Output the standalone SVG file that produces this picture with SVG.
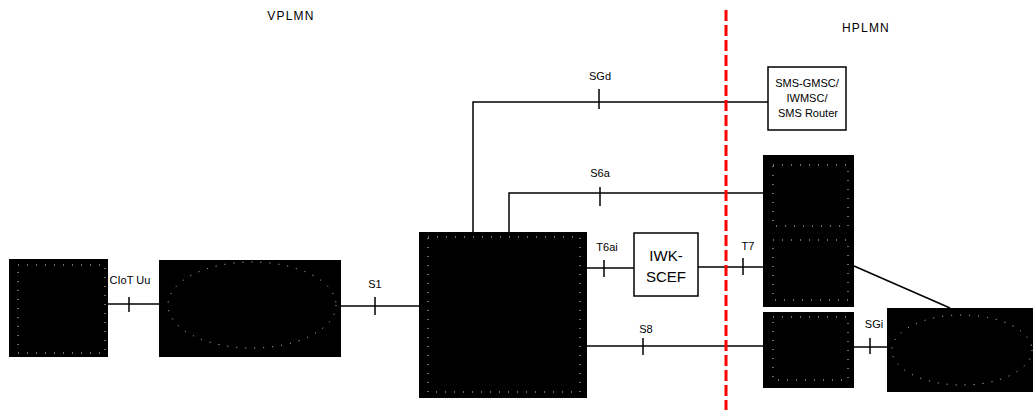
<svg xmlns="http://www.w3.org/2000/svg" width="1033" height="410" viewBox="0 0 1033 410">
<defs>
<style>
.blk{fill:#000;stroke:none}
.dot{fill:none;stroke:#d8d8d8;stroke-width:1;stroke-dasharray:1 8}
.box{fill:#fff;stroke:#000;stroke-width:1.5}
.ln{fill:none;stroke:#000;stroke-width:1.5}
.tk{stroke:#000;stroke-width:1.5}
.lbl{font-family:"Liberation Sans",Arial,sans-serif;font-size:11px;fill:#000;text-anchor:middle}
.ttl{font-family:"Liberation Sans",Arial,sans-serif;font-size:12px;letter-spacing:1.2px;fill:#000;text-anchor:middle}
.nt{font-family:"Liberation Sans",Arial,sans-serif;fill:#000;text-anchor:middle}
</style>
</defs>
<rect width="1033" height="410" fill="#fff"/>
<text class="ttl" x="291" y="20">VPLMN</text>
<text class="ttl" x="866" y="32">HPLMN</text>
<g id="connectors">
<line class="ln" x1="108" y1="304" x2="159" y2="304"/>
<line class="tk" x1="129" y1="297" x2="129" y2="312"/>
<line class="ln" x1="341" y1="306" x2="419" y2="306"/>
<line class="tk" x1="375" y1="297" x2="375" y2="315"/>
<polyline class="ln" points="473,232 473,102 768,102"/>
<line class="tk" x1="599" y1="89" x2="599" y2="109"/>
<polyline class="ln" points="509,232 509,193 763,193"/>
<line class="tk" x1="600" y1="187" x2="600" y2="206"/>
<line class="ln" x1="587" y1="268" x2="634" y2="268"/>
<line class="tk" x1="604" y1="260" x2="604" y2="277"/>
<line class="ln" x1="698" y1="267" x2="763" y2="267"/>
<line class="tk" x1="743" y1="258" x2="743" y2="275"/>
<line class="ln" x1="587" y1="346" x2="763" y2="346"/>
<line class="tk" x1="643" y1="338" x2="643" y2="355"/>
<line class="ln" x1="854" y1="266" x2="950" y2="308"/>
<line class="ln" x1="854" y1="347" x2="887" y2="347"/>
<line class="tk" x1="870" y1="338" x2="870" y2="354"/>
<text class="lbl" x="130" y="284">CIoT Uu</text>
<text class="lbl" x="375" y="288">S1</text>
<text class="lbl" x="600" y="80">SGd</text>
<text class="lbl" x="600" y="177">S6a</text>
<text class="lbl" x="607" y="251">T6ai</text>
<text class="lbl" x="748" y="250">T7</text>
<text class="lbl" x="646" y="333">S8</text>
<text class="lbl" x="874" y="328">SGi</text>
</g>
<g id="node-ue">
<rect class="blk" x="9" y="259" width="99" height="98"/>
<rect class="dot" x="18" y="265" width="87" height="88"/>
</g>
<g id="node-ran">
<rect class="blk" x="159" y="260" width="182" height="97"/>
<ellipse class="dot" cx="252" cy="305" rx="84" ry="43"/>
</g>
<g id="node-core">
<rect class="blk" x="419" y="232" width="168" height="166"/>
<rect class="dot" x="428" y="237" width="152" height="155"/>
</g>
<g id="node-iwk-scef">
<rect class="box" x="634" y="233" width="64" height="63"/>
<text class="nt" x="666" y="261" font-size="15">IWK-</text>
<text class="nt" x="666" y="282" font-size="15">SCEF</text>
</g>
<g id="node-sms">
<rect class="box" x="768" y="67" width="78" height="63"/>
<text class="nt" x="807" y="87" font-size="11">SMS-GMSC/</text>
<text class="nt" x="807" y="102" font-size="11">IWMSC/</text>
<text class="nt" x="808" y="117" font-size="11">SMS Router</text>
</g>
<g id="node-hss">
<rect class="blk" x="763" y="155" width="91" height="78"/>
<rect class="dot" x="773" y="165" width="75" height="61"/>
</g>
<g id="node-scef">
<rect class="blk" x="763" y="232" width="91" height="75"/>
<rect class="dot" x="773" y="240" width="75" height="60"/>
</g>
<g id="node-pgw">
<rect class="blk" x="763" y="312" width="91" height="76"/>
<rect class="dot" x="773" y="317" width="75" height="63"/>
</g>
<g id="node-pdn">
<rect class="blk" x="887" y="308" width="146" height="84"/>
<ellipse class="dot" cx="962" cy="350" rx="70" ry="35"/>
</g>
<line id="border" x1="726" y1="10" x2="726" y2="410" stroke="#f00" stroke-width="3" stroke-dasharray="11 4"/>
</svg>
